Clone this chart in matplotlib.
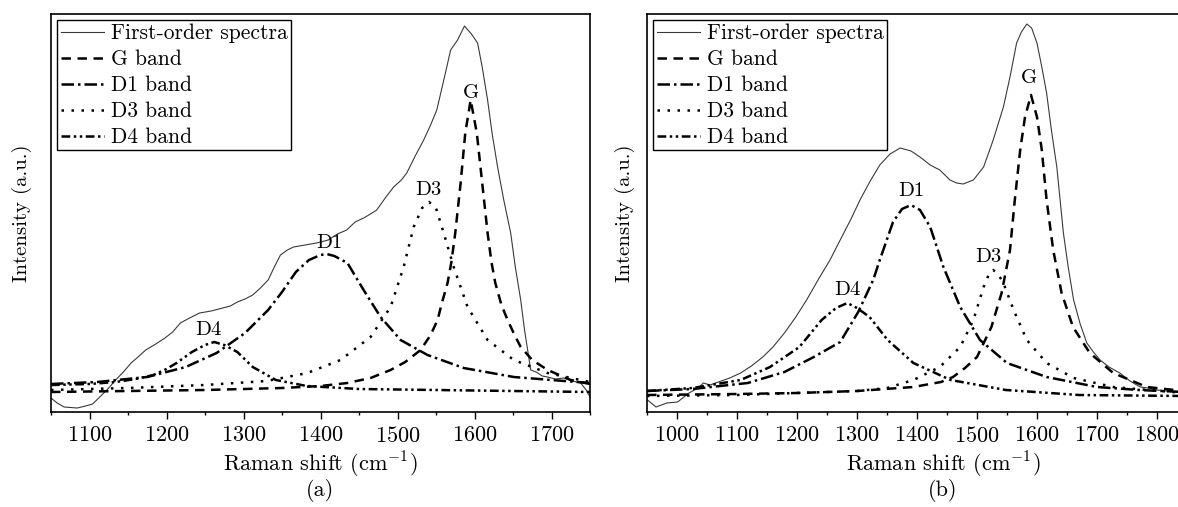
import matplotlib
matplotlib.use("Agg")
import matplotlib.pyplot as plt

plt.rcParams['font.family'] = ['cmr10', 'DejaVu Serif']
plt.rcParams['mathtext.fontset'] = 'cm'
plt.rcParams['axes.unicode_minus'] = False
plt.rcParams['axes.formatter.use_mathtext'] = True

# ---- panel (a) ----
spec_a_x = [1050, 1058, 1067, 1084, 1095, 1104, 1116, 1125, 1134, 1144, 1154, 1163, 1173, 1186,
            1198, 1208, 1218, 1230, 1243, 1258, 1273, 1283, 1292, 1302, 1312, 1322, 1332, 1340,
            1348, 1357, 1365, 1380, 1395, 1410, 1422, 1434, 1445, 1456, 1465, 1473, 1485, 1495,
            1505, 1512, 1523, 1534, 1543, 1551, 1558, 1564, 1569, 1578, 1587, 1596, 1604, 1610,
            1617, 1623, 1630, 1638, 1647, 1653, 1660, 1665, 1669, 1673, 1680, 1688, 1695, 1705,
            1716, 1727, 1738, 1745, 1750]
spec_a_y = [14, 9, 5, 4, 6, 8, 17, 24, 32, 40, 49, 55, 62, 68,
            74, 80, 89, 94, 99, 101, 104, 106, 110, 113, 117, 124, 132, 145,
            157, 162, 165, 167, 169, 172, 178, 182, 190, 194, 198, 202, 215, 225,
            232, 239, 256, 272, 287, 302, 325, 345, 362, 372, 386, 378, 369, 345,
            312, 278, 245, 212, 179, 145, 112, 82, 62, 42, 40, 36, 35, 33,
            34, 31, 29, 22, 15]

g_a_x = [1050, 1150, 1250, 1350, 1400, 1435, 1465, 1491, 1510, 1530, 1543, 1552, 1558, 1565,
         1570, 1575, 1582, 1588, 1595, 1603, 1610, 1617, 1622, 1627, 1635, 1643, 1652, 1660,
         1675, 1695, 1725, 1750]
g_a_y = [20, 21, 22, 24, 26, 29, 34, 42, 50, 62, 77, 92, 110, 129,
         150, 179, 229, 279, 312, 279, 229, 179, 150, 129, 107, 92, 77, 65,
         52, 42, 32, 28]

d1_a_x = [1050, 1110, 1175, 1225, 1265, 1302, 1332, 1350, 1368, 1385, 1400, 1408, 1418, 1435,
          1456, 1478, 1504, 1539, 1586, 1651, 1700, 1750]
d1_a_y = [28, 30, 35, 45, 59, 79, 102, 120, 140, 152, 157, 158, 156, 149,
          122, 95, 72, 57, 44, 35, 32, 29]

d3_a_x = [1050, 1150, 1250, 1330, 1383, 1426, 1465, 1491, 1508, 1521, 1532, 1541, 1550, 1560,
          1573, 1591, 1617, 1651, 1695, 1750]
d3_a_y = [22, 24, 27, 31, 39, 52, 75, 105, 145, 185, 204, 210, 204, 179,
          145, 105, 72, 52, 39, 30]

d4_a_x = [1050, 1100, 1134, 1160, 1183, 1200, 1213, 1233, 1250, 1262, 1275, 1292, 1312, 1342,
          1382, 1450, 1550, 1650, 1750]
d4_a_y = [27, 28, 30, 33, 37, 43, 49, 60, 67, 70, 67, 60, 45, 32,
          26, 23, 22, 21, 20]

# ---- panel (b) ----
spec_b_x = [951, 965, 983, 1001, 1020, 1035, 1044, 1055, 1069, 1088, 1106, 1124, 1143, 1160,
            1179, 1198, 1216, 1235, 1255, 1272, 1290, 1305, 1322, 1338, 1355, 1372, 1390, 1405,
            1422, 1438, 1455, 1466, 1477, 1494, 1511, 1527, 1544, 1555, 1566, 1574, 1583, 1591,
            1600, 1608, 1616, 1624, 1633, 1644, 1652, 1661, 1672, 1683, 1694, 1705, 1720, 1738,
            1755, 1772, 1785, 1800, 1815, 1835, 1845]
spec_b_y = [12, 5, 9, 10, 19, 24, 29, 27, 30, 34, 39, 46, 55, 65,
            79, 95, 112, 132, 152, 172, 193, 212, 231, 247, 258, 264, 261, 255,
            247, 242, 232, 229, 228, 232, 245, 272, 305, 335, 369, 380, 388, 384,
            369, 345, 319, 282, 245, 179, 145, 112, 88, 69, 60, 52, 45, 39,
            31, 25, 24, 22, 21, 20, 19]

g_b_x = [950, 1100, 1200, 1300, 1394, 1440, 1460, 1480, 1500, 1524, 1541, 1555, 1563, 1572,
         1580, 1590, 1600, 1608, 1616, 1627, 1641, 1660, 1688, 1727, 1783, 1845]
g_b_y = [17, 18, 19, 21, 25, 30, 35, 44, 55, 85, 119, 162, 212, 262,
         295, 317, 295, 262, 212, 162, 119, 85, 59, 39, 25, 21]

d1_b_x = [950, 1026, 1118, 1179, 1228, 1272, 1302, 1327, 1338, 1360, 1375, 1390, 1405, 1422,
          1444, 1472, 1505, 1550, 1616, 1700, 1770, 1845]
d1_b_y = [21, 23, 29, 40, 55, 70, 100, 132, 152, 190, 203, 207, 202, 185,
          145, 105, 72, 49, 35, 25, 22, 20]

d3_b_x = [950, 1100, 1200, 1300, 1350, 1394, 1438, 1472, 1494, 1511, 1520, 1527, 1535, 1544,
          1561, 1583, 1616, 1661, 1727, 1845]
d3_b_y = [16, 17, 19, 21, 24, 32, 45, 65, 92, 125, 138, 142, 138, 129,
          102, 72, 49, 34, 25, 19]

d4_b_x = [950, 1026, 1106, 1155, 1204, 1241, 1265, 1284, 1300, 1321, 1351, 1394, 1456, 1548,
          1670, 1845]
d4_b_y = [21, 24, 32, 45, 65, 92, 104, 109, 104, 95, 72, 49, 32, 22,
          17, 16]

band_names = ['G', 'D1', 'D3', 'D4']
legend_labels = ['First-order spectra', 'G band', 'D1 band', 'D3 band', 'D4 band']
label_pos_a = [(1595, 319), (1411, 169), (1540, 222), (1255, 82)]
label_pos_b = [(1587, 334), (1391, 221), (1519, 155), (1284, 122)]

styles = {
    'G': (0, (3.8, 2.6)),
    'D1': (0, (5, 1.6, 1, 1.6)),
    'D3': (0, (1, 3)),
    'D4': (0, (3.5, 1.4, 1, 1.4, 1, 1.4)),
}

W, H = 1178, 507
fig = plt.figure(figsize=(W / 100, H / 100), dpi=100)
ax_a = fig.add_axes([51 / W, 1 - 412 / H, (590 - 51) / W, (412 - 14) / H])
ax_b = fig.add_axes([647 / W, 1 - 412 / H, (1247 - 647) / W, (412 - 14) / H])


def draw(ax, spec, bands, label_pos, xlim, ticks, minor):
    ax.plot(spec[0], spec[1], color='#3a3a3a', lw=0.8)
    for name, (bx, by) in zip(band_names, bands):
        ax.plot(bx, by, color='black', lw=1.8, linestyle=styles[name])
    for name, (lx, ly) in zip(band_names, label_pos):
        ax.text(lx, ly, name, ha='center', va='center', fontsize=15)
    ax.set_xlim(*xlim)
    ax.set_ylim(0, 398)
    ax.set_xticks(ticks)
    ax.set_xticks(minor, minor=True)
    ax.set_yticks([])
    ax.tick_params(axis='x', which='major', direction='out', length=5, width=1, labelsize=16, pad=5)
    ax.tick_params(axis='x', which='minor', direction='out', length=2.5, width=1)
    for s in ax.spines.values():
        s.set_linewidth(1.2)
    leg = ax.legend(legend_labels, loc='upper left', fontsize=15.5, frameon=True,
                    fancybox=False, framealpha=1, edgecolor='black', handlelength=2.0,
                    handletextpad=0.35, labelspacing=0.3, borderpad=0.15, borderaxespad=0.3)
    leg.get_frame().set_linewidth(1.0)


draw(ax_a, (spec_a_x, spec_a_y),
     [(g_a_x, g_a_y), (d1_a_x, d1_a_y), (d3_a_x, d3_a_y), (d4_a_x, d4_a_y)],
     label_pos_a, (1050, 1750), range(1100, 1800, 100), range(1050, 1800, 50))
draw(ax_b, (spec_b_x, spec_b_y),
     [(g_b_x, g_b_y), (d1_b_x, d1_b_y), (d3_b_x, d3_b_y), (d4_b_x, d4_b_y)],
     label_pos_b, (950, 1950), range(1000, 1900, 100), range(950, 1900, 50))

for cx, lx, tag in [(320, 22, '(a)'), (943, 625, '(b)')]:
    fig.text(cx / W, 1 - 465 / H, r'Raman shift (cm$^{-1}$)', ha='center', va='center', fontsize=16)
    fig.text(cx / W, 1 - 490 / H, tag, ha='center', va='center', fontsize=16)
    fig.text(lx / W, 1 - 213 / H, 'Intensity (a.u.)', ha='center', va='center',
             rotation=90, fontsize=15)

fig.savefig('out.png', dpi=100)
